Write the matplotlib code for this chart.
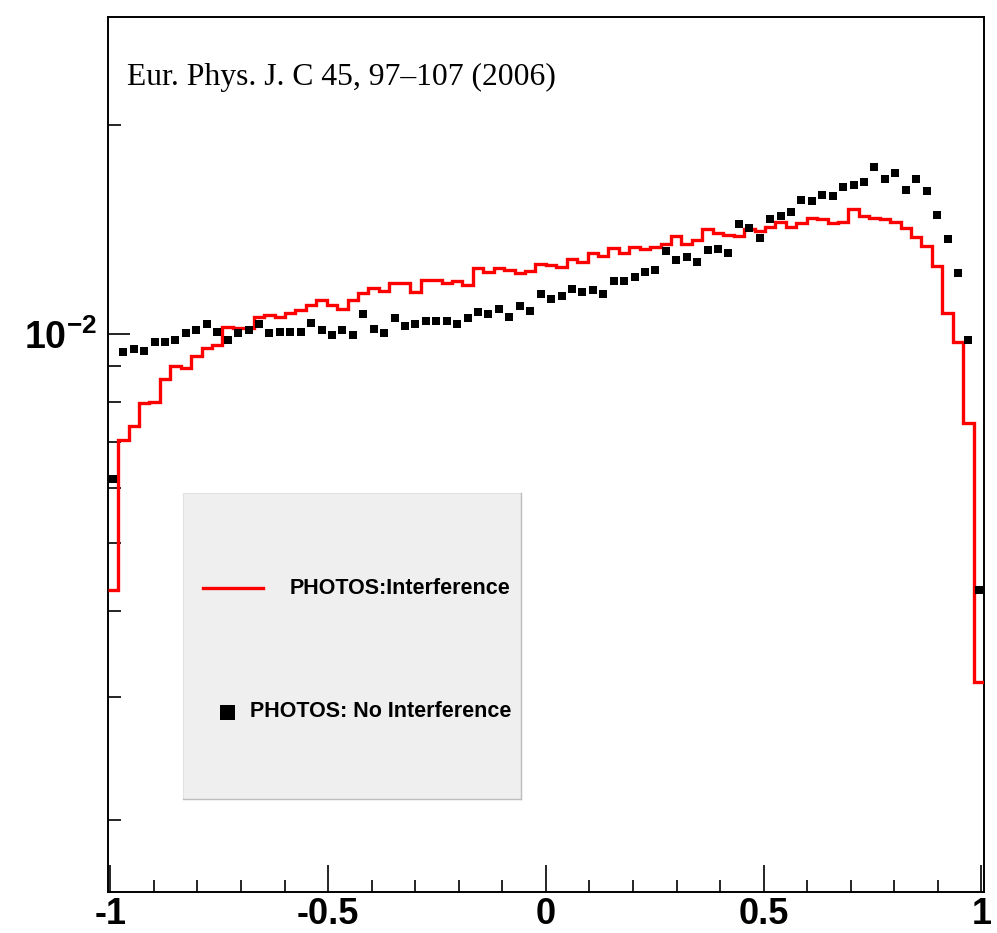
import numpy as np
import matplotlib
matplotlib.use("Agg")
import matplotlib.pyplot as plt
from matplotlib.patches import Rectangle
from matplotlib.lines import Line2D
from matplotlib.ticker import FixedLocator, LogLocator, NullFormatter

# ---------------- data ----------------
x_min, x_max = -1.006, 1.006
n_bins = 84

# PHOTOS: Interference (red histogram), bin contents
interference = [
    0.00429, 0.00704, 0.00738, 0.00796, 0.00800, 0.00862, 0.00900, 0.00895, 0.00929, 0.00957,
    0.00965, 0.01026, 0.01020, 0.01020, 0.01058, 0.01066, 0.01058, 0.01072, 0.01084, 0.01102,
    0.01120, 0.01102, 0.01088, 0.01120, 0.01148, 0.01165, 0.01155, 0.01186, 0.01186, 0.01152,
    0.01197, 0.01197, 0.01184, 0.01193, 0.01178, 0.01245, 0.01228, 0.01245, 0.01238, 0.01227,
    0.01235, 0.01262, 0.01258, 0.01249, 0.01284, 0.01269, 0.01308, 0.01296, 0.01330, 0.01311,
    0.01337, 0.01327, 0.01337, 0.01349, 0.01385, 0.01349, 0.01367, 0.01416, 0.01398, 0.01390,
    0.01385, 0.01416, 0.01408, 0.01429, 0.01452, 0.01426, 0.01445, 0.01469, 0.01463, 0.01448,
    0.01452, 0.01516, 0.01481, 0.01472, 0.01466, 0.01450, 0.01421, 0.01382, 0.01340, 0.01254,
    0.01072, 0.00976, 0.00746, 0.00316,
]

# PHOTOS: No Interference (black squares), bin contents
no_interference = [
    0.00618, 0.00942, 0.00953, 0.00946, 0.00974, 0.00976, 0.00980, 0.01004, 0.01013, 0.01035,
    0.01008, 0.00982, 0.01004, 0.01015, 0.01034, 0.01004, 0.01008, 0.01008, 0.01008, 0.01038,
    0.01013, 0.00999, 0.01013, 0.00998, 0.01068, 0.01019, 0.01005, 0.01054, 0.01027, 0.01034,
    0.01045, 0.01044, 0.01046, 0.01034, 0.01057, 0.01078, 0.01070, 0.01088, 0.01060, 0.01099,
    0.01080, 0.01144, 0.01123, 0.01137, 0.01163, 0.01149, 0.01158, 0.01143, 0.01192, 0.01192,
    0.01210, 0.01231, 0.01239, 0.01318, 0.01278, 0.01293, 0.01272, 0.01322, 0.01328, 0.01309,
    0.01441, 0.01424, 0.01377, 0.01464, 0.01481, 0.01501, 0.01561, 0.01557, 0.01587, 0.01582,
    0.01628, 0.01642, 0.01657, 0.01743, 0.01675, 0.01708, 0.01613, 0.01673, 0.01608, 0.01484,
    0.01371, 0.01227, 0.00980, 0.00428,
]

xtick_values = [-1, -0.5, 0, 0.5, 1]
xtick_labels = ["-1", "-0.5", "0", "0.5", "1"]
ytick_values = [0.01]
ytick_labels = [r"$10^{-2}$"]
y_min, y_max = 0.001576, 0.0286

label_interference = "PHOTOS:Interference"
label_no_interference = "PHOTOS: No Interference"
citation = "Eur. Phys. J. C 45, 97\u2013107 (2006)"

# ---------------- style ----------------
plt.rcParams["font.family"] = ["Liberation Sans", "DejaVu Sans"]
plt.rcParams["mathtext.fontset"] = "custom"
plt.rcParams["mathtext.rm"] = "Liberation Sans:bold"
plt.rcParams["mathtext.it"] = "Liberation Sans:bold"
plt.rcParams["mathtext.bf"] = "Liberation Sans:bold"

edges = np.linspace(x_min, x_max, n_bins + 1)
centers = 0.5 * (edges[1:] + edges[:-1])

fig = plt.figure(figsize=(9.97, 9.33), dpi=100)
ax = fig.add_axes([0.108, 0.0443, 0.879, 0.9372])

ax.stairs(interference, edges, baseline=None, color="#ff0000", lw=2.4, zorder=3)
ax.plot(centers, no_interference, "s", color="black", ms=5.9, mew=0, zorder=4)

ax.set_yscale("log")
ax.set_xlim(x_min, x_max)
ax.set_ylim(y_min, y_max)

ax.xaxis.set_major_locator(FixedLocator(xtick_values))
ax.set_xticklabels(xtick_labels)
ax.xaxis.set_minor_locator(FixedLocator(np.arange(-10, 11) / 10.0))
ax.yaxis.set_major_locator(FixedLocator(ytick_values))
ax.set_yticklabels(ytick_labels)
ax.yaxis.set_minor_locator(LogLocator(base=10, subs=np.arange(2, 10)))
ax.yaxis.set_minor_formatter(NullFormatter())

ax.tick_params(axis="x", which="major", direction="in", length=19.5, width=1.2,
               pad=4.0, labelsize=26, top=False)
ax.tick_params(axis="x", which="minor", direction="in", length=9, width=1.2, top=False)
ax.tick_params(axis="y", which="major", direction="in", length=16, width=1.2,
               pad=8.0, labelsize=27, right=False)
ax.tick_params(axis="y", which="minor", direction="in", length=9, width=1.2, right=False)
for lab in ax.get_xticklabels() + ax.get_yticklabels():
    lab.set_fontweight("bold")

for sp in ax.spines.values():
    sp.set_linewidth(1.4)

# citation text
ax.text(0.022, 0.9221, citation, transform=ax.transAxes, ha="left", va="baseline",
        fontsize=22.8, family=["Liberation Serif", "DejaVu Serif"])

# legend box (ROOT style)
bx0, bx1, by0, by1 = 0.0863, 0.4713, 0.1057, 0.4563
ax.add_patch(Rectangle((bx0, by0), bx1 - bx0, by1 - by0, transform=ax.transAxes,
                       facecolor="#efefef", edgecolor="#e2e2e2", lw=0.8, zorder=5))
ax.add_line(Line2D([bx1, bx1], [by0, by1], transform=ax.transAxes, color="#bdbdbd", lw=1.0, zorder=6))
ax.add_line(Line2D([bx0, bx1], [by0, by0], transform=ax.transAxes, color="#bdbdbd", lw=1.0, zorder=6))

ax.add_line(Line2D([0.1091, 0.1776], [0.3470, 0.3470], transform=ax.transAxes,
                   color="#ff0000", lw=2.4, zorder=7))
ax.text(0.4591, 0.3470, label_interference, transform=ax.transAxes, ha="right", va="center",
        fontsize=15.5, fontweight="bold", zorder=7)
ax.add_line(Line2D([0.1365], [0.2059], transform=ax.transAxes, marker="s", color="black",
                   ms=10.8, mew=0, zorder=7))
ax.text(0.4610, 0.2059, label_no_interference, transform=ax.transAxes, ha="right", va="center",
        fontsize=15.5, fontweight="bold", zorder=7)

fig.savefig("out.png", dpi=100)
